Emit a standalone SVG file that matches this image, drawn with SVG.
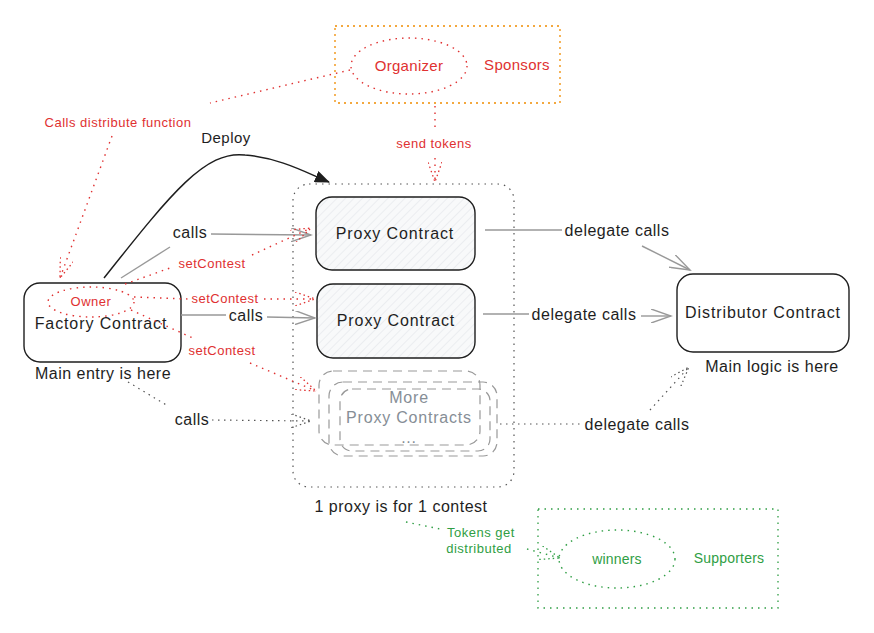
<svg xmlns="http://www.w3.org/2000/svg" width="874" height="633" viewBox="0 0 874 633">
<style>
text{font-family:"Liberation Sans",Arial,sans-serif;text-anchor:middle}
.b{fill:#1e1e1e;font-size:16px;letter-spacing:0.9px}
.bs{fill:#1e1e1e;font-size:16px;letter-spacing:0.5px}
.r{fill:#e03131;font-size:13px;letter-spacing:0.5px}
.rl{fill:#e03131;font-size:15px;letter-spacing:0.3px}
.g{fill:#2f9e44;font-size:13px;letter-spacing:0.5px}
.gl{fill:#2f9e44;font-size:14px;letter-spacing:0.2px}
.gr{fill:#868e96;font-size:16px;letter-spacing:0.8px}
.node{fill:#fff;stroke:#1e1e1e;stroke-width:1.4}
.proxy{fill:url(#hatch);stroke:#1e1e1e;stroke-width:1.4}
.dash{fill:none;stroke:#999;stroke-width:1.2;stroke-dasharray:9 6}
.solid{fill:none;stroke:#999;stroke-width:1.4}
.dotg{fill:none;stroke:#555;stroke-width:1.2;stroke-dasharray:1.5 4.5}
.dotr{fill:none;stroke:#e03131;stroke-width:1.4;stroke-dasharray:1.5 5}
.dotgr{fill:none;stroke:#2f9e44;stroke-width:1.4;stroke-dasharray:1.5 5}
</style>
<defs>
<pattern id="hatch" width="6" height="6" patternUnits="userSpaceOnUse" patternTransform="rotate(45)">
<rect width="6" height="6" fill="#f8f9fa"/>
<line x1="0" y1="0" x2="0" y2="6" stroke="#dee2e6" stroke-width="1"/>
</pattern>
<marker id="open" markerWidth="22" markerHeight="14" refX="20" refY="7" orient="auto" markerUnits="userSpaceOnUse">
<path d="M0,0 L20,7 L0,14" fill="none" stroke="#999" stroke-width="1.4"/>
</marker>
<marker id="openr" markerWidth="22" markerHeight="14" refX="20" refY="7" orient="auto" markerUnits="userSpaceOnUse">
<path d="M0,0 L20,7 L0,14" fill="none" stroke="#e03131" stroke-width="1.3" stroke-dasharray="1.5 3"/>
</marker>
<marker id="openg" markerWidth="22" markerHeight="14" refX="20" refY="7" orient="auto" markerUnits="userSpaceOnUse">
<path d="M0,0 L20,7 L0,14" fill="none" stroke="#555" stroke-width="1.2" stroke-dasharray="1.5 3"/>
</marker>
<marker id="opengr" markerWidth="22" markerHeight="14" refX="20" refY="7" orient="auto" markerUnits="userSpaceOnUse">
<path d="M0,0 L20,7 L0,14" fill="none" stroke="#2f9e44" stroke-width="1.3" stroke-dasharray="1.5 3"/>
</marker>
<marker id="fill" markerWidth="16" markerHeight="12" refX="14" refY="6" orient="auto" markerUnits="userSpaceOnUse">
<path d="M0,0 L15,6 L0,12 Z" fill="#1e1e1e"/>
</marker>
</defs>

<g id="sponsors-group">
<rect x="335" y="26" width="225" height="77" fill="none" stroke="#f08c00" stroke-width="1.3" stroke-dasharray="2 4"/>
<ellipse cx="409" cy="66" rx="58" ry="28" class="dotr"/>
<text x="409" y="71" class="rl">Organizer</text>
<text x="517" y="70" class="rl">Sponsors</text>
</g>

<g id="proxy-container">
<rect x="293" y="184" width="221" height="303" rx="16" fill="none" stroke="#555" stroke-width="1.2" stroke-dasharray="1.5 5"/>
<text x="401" y="512" class="bs">1 proxy is for 1 contest</text>
</g>

<g id="proxy1">
<rect x="316" y="197" width="159" height="73" rx="16" class="proxy"/>
<text x="395" y="239" class="b">Proxy Contract</text>
</g>
<g id="proxy2">
<rect x="317" y="284" width="158" height="74" rx="16" class="proxy"/>
<text x="396" y="326" class="b">Proxy Contract</text>
</g>
<g id="more-proxies">
<rect x="319" y="371" width="161" height="74" rx="14" class="dash"/>
<rect x="329" y="382" width="168" height="74" rx="14" class="dash"/>
<rect x="340" y="389" width="150" height="62" rx="12" class="dash"/>
<text x="409" y="403" class="gr">More</text>
<text x="409" y="423" class="gr">Proxy Contracts</text>
<text x="409" y="443" class="gr">...</text>
</g>

<g id="factory">
<rect x="24" y="283" width="157" height="79" rx="16" class="node"/>
<ellipse cx="91" cy="302" rx="43" ry="15" class="dotr"/>
<text x="91" y="306" class="r">Owner</text>
<text x="101" y="329" class="b">Factory Contract</text>
<text x="103" y="379" class="bs">Main entry is here</text>
</g>

<g id="distributor">
<rect x="677" y="274" width="172" height="78" rx="16" class="node"/>
<text x="763" y="318" class="b">Distributor Contract</text>
<text x="772" y="372" class="bs">Main logic is here</text>
</g>

<g id="winners-group">
<rect x="538" y="509" width="240" height="99" fill="none" stroke="#2f9e44" stroke-width="1.3" stroke-dasharray="1.5 5"/>
<ellipse cx="617" cy="559" rx="58" ry="29" class="dotgr"/>
<text x="617" y="564" class="gl">winners</text>
<text x="729" y="563" class="gl">Supporters</text>
</g>

<g id="connectors">
<path d="M350,70 L210,103" class="dotr"/>
<text x="118" y="127" class="r">Calls distribute function</text>
<path d="M112,136 L60,278" class="dotr" marker-end="url(#openr)"/>
<path d="M435,106 L435,130" class="dotr"/>
<text x="434" y="148" class="r">send tokens</text>
<path d="M435,158 L435,182" class="dotr" marker-end="url(#openr)"/>
<text x="226" y="143" fill="#1e1e1e" font-size="15" letter-spacing="0.5">Deploy</text>
<path d="M104,278 C170,195 205,150 245,155 C280,158 305,172 329,182" fill="none" stroke="#1e1e1e" stroke-width="1.5" marker-end="url(#fill)"/>
<path d="M121,278 L170,247" class="solid"/>
<text x="190" y="238" class="bs">calls</text>
<path d="M211,234 L311,235" class="solid" marker-end="url(#open)"/>
<path d="M125,284 L170,268" class="dotr"/>
<text x="212" y="268" class="r">setContest</text>
<path d="M252,255 L311,228" class="dotr" marker-end="url(#openr)"/>
<path d="M134,297 L188,299" class="dotr"/>
<text x="225" y="303" class="r">setContest</text>
<path d="M264,299 L315,299" class="dotr" marker-end="url(#openr)"/>
<path d="M181,315 L226,315" class="solid"/>
<text x="246" y="321" class="bs">calls</text>
<path d="M267,317 L315,318" class="solid" marker-end="url(#open)"/>
<path d="M131,310 L195,339" class="dotr"/>
<text x="222" y="355" class="r">setContest</text>
<path d="M250,363 L316,391" class="dotr" marker-end="url(#openr)"/>
<path d="M128,382 L168,406" class="dotg"/>
<text x="192" y="425" class="bs">calls</text>
<path d="M212,420 L311,421" class="dotg" marker-end="url(#openg)"/>
<path d="M485,230 L562,230" class="solid"/>
<text x="617" y="236" class="bs">delegate calls</text>
<path d="M642,246 L690,270" class="solid" marker-end="url(#open)"/>
<path d="M483,314 L529,314" class="solid"/>
<text x="584" y="320" class="bs">delegate calls</text>
<path d="M641,316 L671,316" class="solid" marker-end="url(#open)"/>
<path d="M500,424 L580,424" class="dotg"/>
<text x="637" y="430" class="bs">delegate calls</text>
<path d="M650,410 L689,367" class="dotg" marker-end="url(#openg)"/>
<path d="M406,522 L440,529" class="dotgr"/>
<text x="481" y="537" class="g">Tokens get</text>
<text x="479" y="553" class="g">distributed</text>
<path d="M527,549 L560,558" class="dotgr" marker-end="url(#opengr)"/>
</g>
</svg>
